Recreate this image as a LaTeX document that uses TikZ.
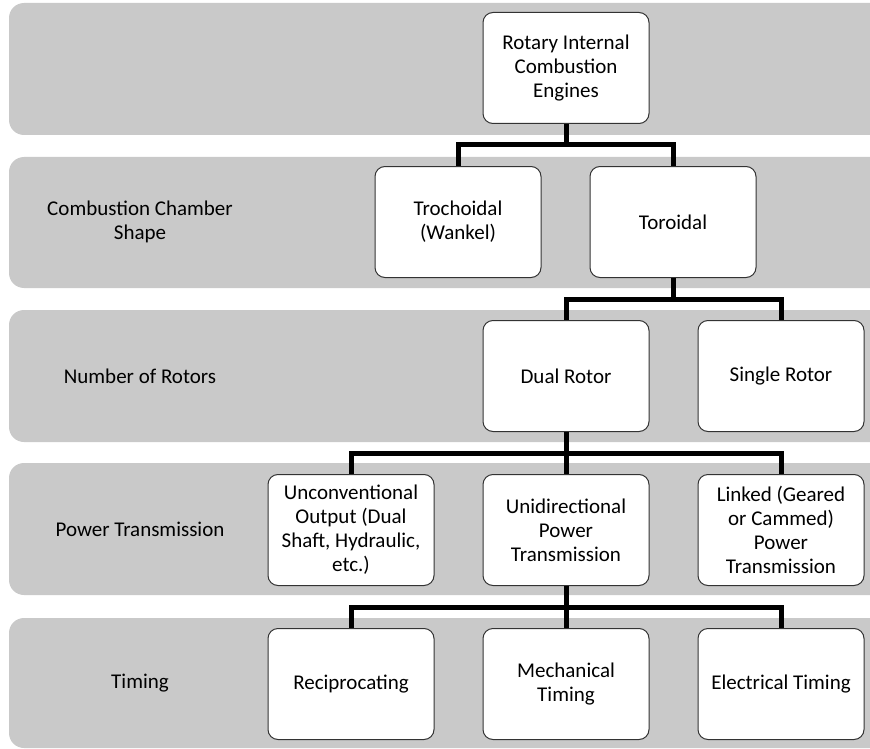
\documentclass[tikz,border=0pt]{standalone}
\usepackage{fontspec}
\setmainfont{Carlito}
\usepackage{tikz}
\usetikzlibrary{positioning}

\begin{document}
\begin{tikzpicture}[x=1pt, y=-1pt, node distance=42pt and 48pt,
band/.style={fill=bandgray, rounded corners=15pt},
box/.style={draw=black!80, line width=1pt, fill=white, rounded corners=10pt, minimum width=166pt, minimum height=111pt, align=center, font=\fontsize{21}{24}\selectfont},
level/.style={align=center, font=\fontsize{21}{24}\selectfont},
link/.style={line width=5pt} ]

% Define colors
\definecolor{bandgray}{RGB}{201, 201, 201}

\useasboundingbox (0,0) rectangle (870,749);
\clip (0,0) rectangle (870,749);

% Bands
\fill[band] (9,3) rectangle (885,135);
\fill[band] (9,157) rectangle (885,288);
\fill[band] (9,310) rectangle (885,442);
\fill[band] (9,463) rectangle (885,595);
\fill[band] (9,618) rectangle (885,748);

% Level labels
\node[level] (shape) at (140,222) {Combustion Chamber\\ Shape};
\node[level] (rotors) at (140,376) {Number of Rotors};
\node[level] (power) at (140,529) {Power Transmission};
\node[level] (timing) at (140,683) {Timing};

% Nodes
\node[box] (dual) at (566,376) {Dual Rotor};
\node[box, right=of dual] (single) {Single Rotor};
\node[box, above=of dual, xshift=107pt] (toroidal) {Toroidal};
\node[box, left=of toroidal] (trochoidal) {Trochoidal\\ (Wankel)};
\node[box, above=of toroidal, xshift=-107pt] (root) {Rotary Internal\\ Combustion\\ Engines};
\node[box, below=of dual] (unidir) {Unidirectional\\ Power\\ Transmission};
\node[box, left=of unidir] (unconv) {Unconventional\\ Output (Dual\\ Shaft, Hydraulic,\\ etc.)};
\node[box, right=of unidir] (linked) {Linked (Geared\\ or Cammed)\\ Power\\ Transmission};
\node[box, below=of unidir] (mech) {Mechanical\\ Timing};
\node[box, left=of mech] (recip) {Reciprocating};
\node[box, right=of mech] (elec) {Electrical Timing};

% Links
\draw[link] (root.south) -- ++(0,21) -| (trochoidal.north);
\draw[link] (root.south) -- ++(0,21) -| (toroidal.north);
\draw[link] (toroidal.south) -- ++(0,21) -| (dual.north);
\draw[link] (toroidal.south) -- ++(0,21) -| (single.north);
\draw[link] (dual.south) -- ++(0,21) -| (unconv.north);
\draw[link] (dual.south) -- (unidir.north);
\draw[link] (dual.south) -- ++(0,21) -| (linked.north);
\draw[link] (unidir.south) -- ++(0,21) -| (recip.north);
\draw[link] (unidir.south) -- (mech.north);
\draw[link] (unidir.south) -- ++(0,21) -| (elec.north);

\end{tikzpicture}
\end{document}
